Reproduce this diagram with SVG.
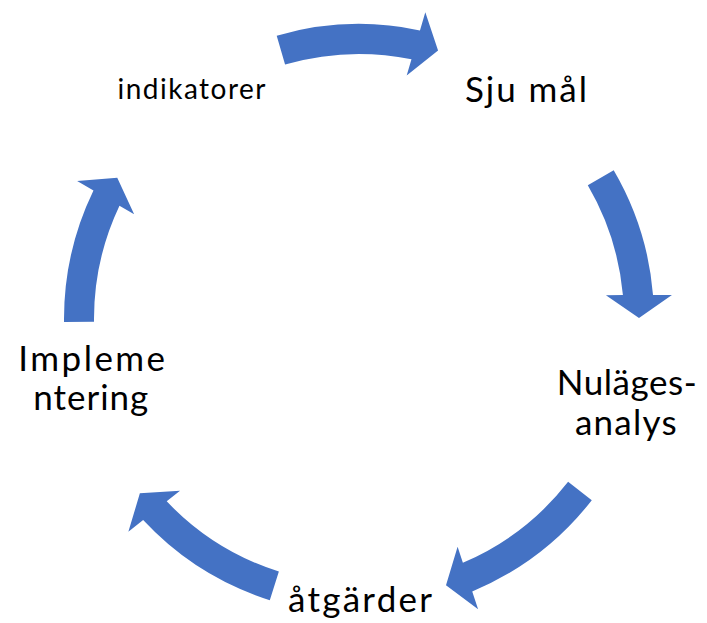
<svg xmlns="http://www.w3.org/2000/svg" width="707" height="623" viewBox="0 0 707 623">
<style>
.arrow{fill:#4472C4;stroke:none}
.lbl{font-family:Lato,"Liberation Sans",sans-serif;fill:#000;text-anchor:middle}
.big{font-size:35px}
.small{font-size:28px}
</style>
<rect width="707" height="623" fill="#fff"/>
<g id="connectors">
<path class="arrow" d="M276.70,35.71 A295,295 0 0 1 419.98,30.38 L425.31,12.25 L438.06,50.39 L406.68,75.56 L411.48,59.25 A265,265 0 0 0 285.07,64.52 Z"/>
<path class="arrow" d="M613.70,170.16 A295,295 0 0 1 653.02,294.97 L671.92,294.91 L639.00,318.02 L605.92,295.14 L622.92,295.08 A265,265 0 0 0 587.80,185.30 Z"/>
<path class="arrow" d="M591.78,500.22 A295,295 0 0 1 472.23,591.40 L478.10,609.36 L445.99,585.15 L457.60,546.63 L462.88,562.79 A265,265 0 0 0 568.11,481.79 Z"/>
<path class="arrow" d="M269.80,600.19 A295,295 0 0 1 143.15,520.08 L128.36,531.85 L139.87,493.30 L180.02,490.76 L166.71,501.34 A265,265 0 0 0 278.87,571.60 Z"/>
<path class="arrow" d="M64.02,322.09 A295,295 0 0 1 93.47,190.48 L77.16,180.94 L117.25,177.73 L134.14,214.24 L119.46,205.66 A265,265 0 0 0 94.01,321.77 Z"/>
</g>
<g id="node-sju-mal"><text class="lbl big" x="526" y="101.7" textLength="122" lengthAdjust="spacing">Sju mål</text></g>
<g id="node-nulagesanalys"><text class="lbl big" x="626.7" y="395" textLength="140" lengthAdjust="spacing">Nuläges-</text><text class="lbl big" x="625.8" y="435" textLength="101.7" lengthAdjust="spacing">analys</text></g>
<g id="node-atgarder"><text class="lbl big" x="360" y="612" textLength="144" lengthAdjust="spacing">åtgärder</text></g>
<g id="node-implementering"><text class="lbl big" x="91.7" y="370.7" textLength="146.7" lengthAdjust="spacing">Impleme</text><text class="lbl big" x="90.8" y="410" textLength="115" lengthAdjust="spacing">ntering</text></g>
<g id="node-indikatorer"><text class="lbl small" x="191.5" y="99.3" textLength="148" lengthAdjust="spacing">indikatorer</text></g>
</svg>
